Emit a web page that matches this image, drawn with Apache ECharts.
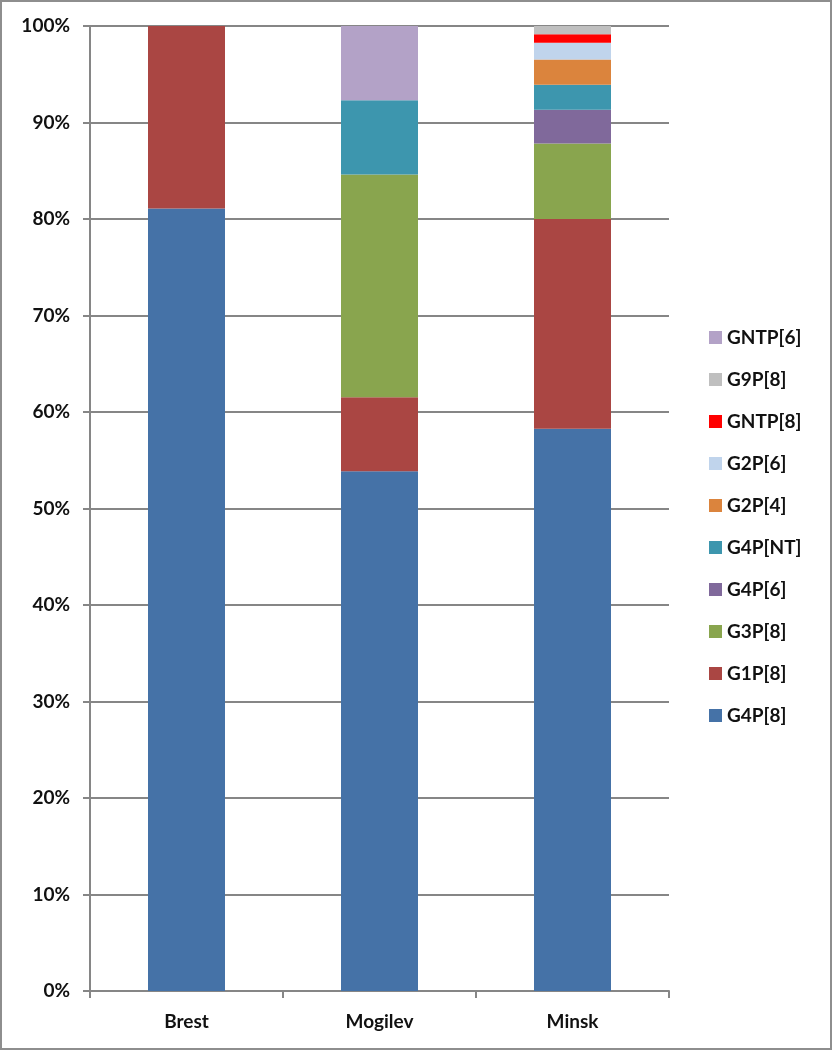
<!DOCTYPE html>
<html>
<head>
<meta charset="utf-8">
<script src="https://cdn.jsdelivr.net/npm/echarts@6/dist/echarts.min.js"></script>
<style>
  html, body { margin: 0; padding: 0; background: #fff; }
  #chart { width: 832px; height: 1050px; box-sizing: border-box; border: 2px solid #8e8e8e; }
</style>
</head>
<body>
<div id="chart"></div>
<script>
// regions on the x axis
const cities = ['Brest', 'Mogilev', 'Minsk']
// genotype names, bottom of the stack first
const genotypes = ['G4P[8]', 'G1P[8]', 'G3P[8]', 'G4P[6]', 'G4P[NT]', 'G2P[4]', 'G2P[6]', 'GNTP[8]', 'G9P[8]', 'GNTP[6]']
const colors = ['#4572A7', '#AA4643', '#89A54E', '#80699B', '#3D96AE', '#DB843D', '#C0D4EC', '#FF0000', '#BFBFBF', '#B3A2C7']
// share in percent, one value per city
const g4p8 = [81.1, 53.85, 58.26]
const g1p8 = [18.9, 7.69, 21.74]
const g3p8 = [0, 23.08, 7.83]
const g4p6 = [0, 0, 3.48]
const g4pNT = [0, 7.69, 2.61]
const g2p4 = [0, 0, 2.61]
const g2p6 = [0, 0, 1.74]
const gntp8 = [0, 0, 0.87]
const g9p8 = [0, 0, 0.87]
const gntp6 = [0, 7.69, 0]
const yTicks = [0, 10, 20, 30, 40, 50, 60, 70, 80, 90, 100]

const values = [g4p8, g1p8, g3p8, g4p6, g4pNT, g2p4, g2p6, gntp8, g9p8, gntp6]
const font = 'Lato, "Open Sans", sans-serif'

const chartInstance = echarts.init(document.getElementById('chart'))

const series = genotypes.map((name, i) => ({
  name: name,
  type: 'bar',
  stack: 'total',
  barWidth: 77,
  itemStyle: { color: colors[i] },
  data: values[i].map(v => (v === 0 ? null : v))
}))

const option = {
  animation: false,
  color: colors,
  grid: { left: 88, right: 161, top: 24, bottom: 57 },
  legend: {
    orient: 'vertical',
    left: 702,
    top: 321,
    itemWidth: 13,
    itemHeight: 13,
    itemGap: 23,
    icon: 'rect',
    data: genotypes.slice().reverse(),
    textStyle: { fontFamily: font, fontWeight: 'bold', fontSize: 19, color: '#111' }
  },
  xAxis: {
    type: 'category',
    data: cities,
    axisLine: { lineStyle: { color: '#868686', width: 2 } },
    axisTick: { show: true, length: 7, lineStyle: { color: '#868686', width: 2 } },
    axisLabel: { margin: 21, fontFamily: font, fontWeight: 'bold', fontSize: 19, color: '#111' }
  },
  yAxis: {
    type: 'value',
    min: 0,
    max: 100,
    interval: 10,
    axisLine: { show: true, lineStyle: { color: '#868686', width: 2 } },
    axisTick: { show: true, length: 7, lineStyle: { color: '#868686', width: 2 } },
    splitLine: { lineStyle: { color: '#868686', width: 2 } },
    axisLabel: {
      margin: 20,
      fontFamily: font,
      fontWeight: 'bold',
      fontSize: 19,
      color: '#111',
      formatter: v => (yTicks.indexOf(v) >= 0 ? v + '%' : '')
    }
  },
  series: series
}
chartInstance.setOption(option)
</script>
</body>
</html>
